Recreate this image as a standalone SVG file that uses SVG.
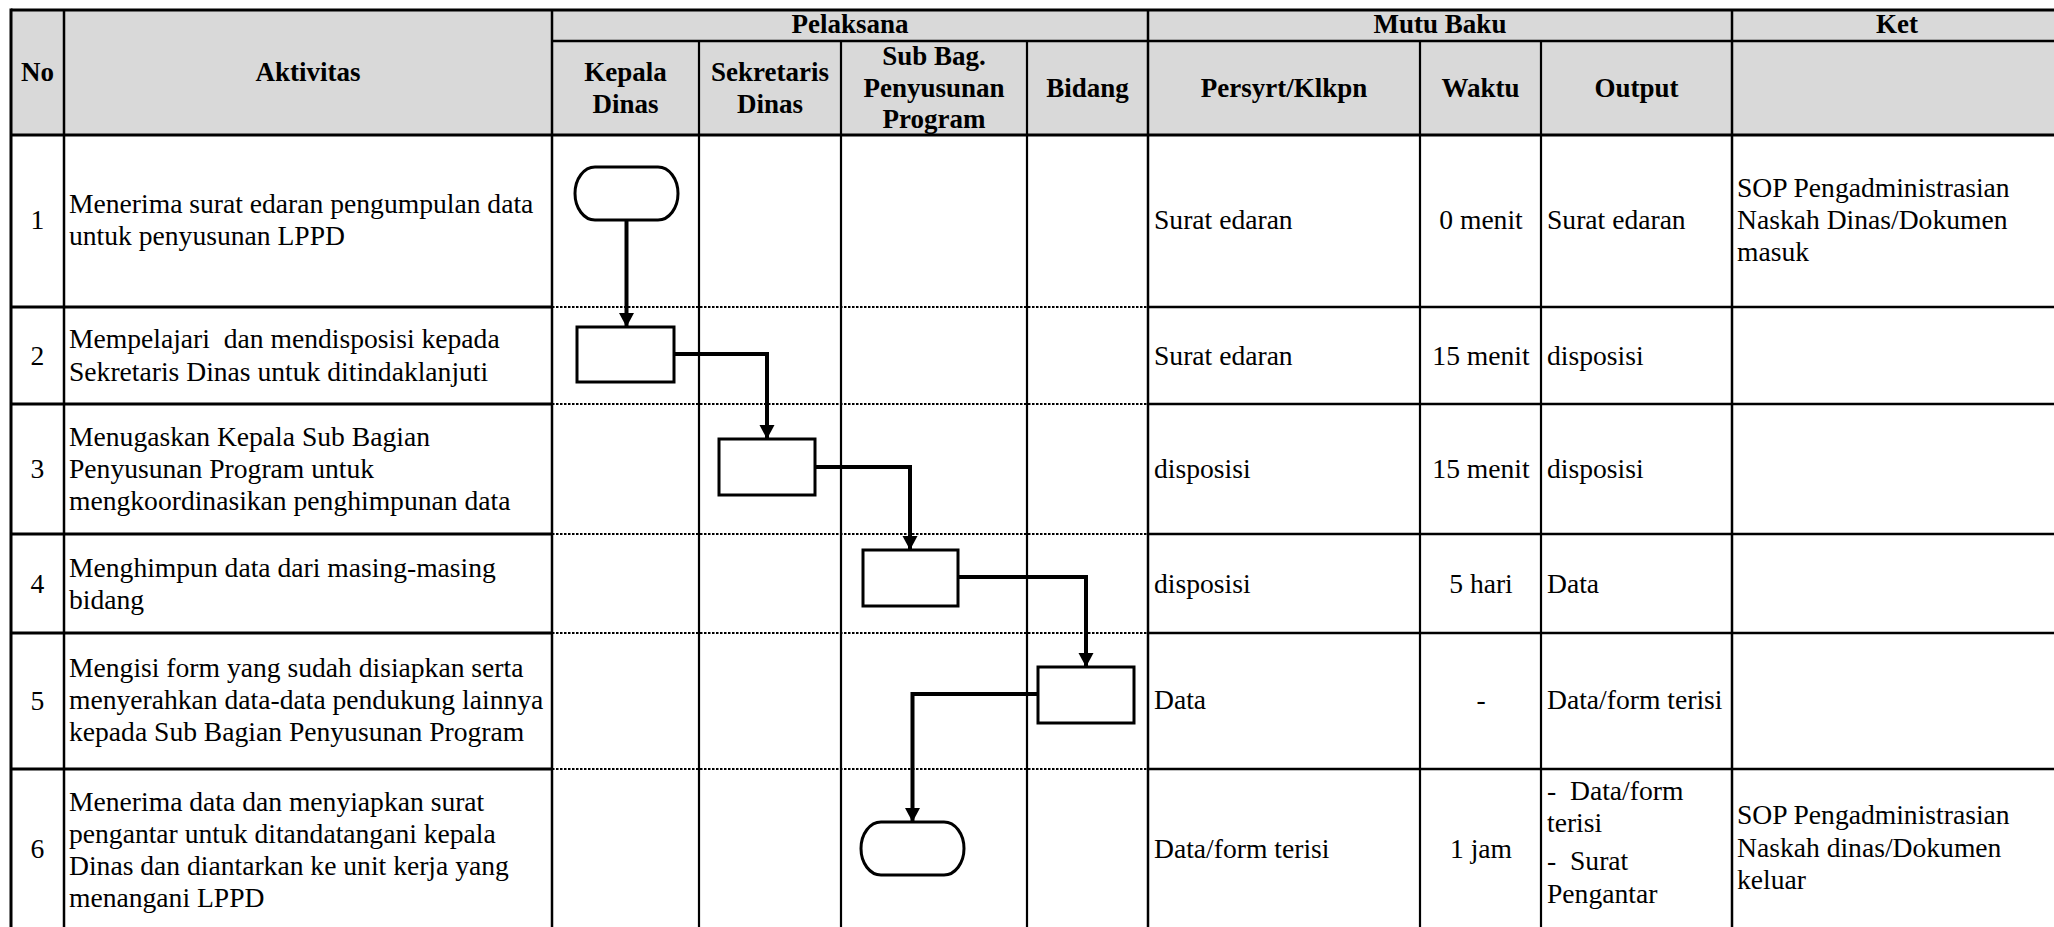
<svg xmlns="http://www.w3.org/2000/svg" width="2054" height="927" viewBox="0 0 2054 927">
  <defs>
    <marker id="arrow" markerUnits="userSpaceOnUse" markerWidth="16" markerHeight="16" refX="14" refY="7.5" orient="auto">
      <path d="M0,0 L14,7.5 L0,15 z" fill="#000"/>
    </marker>
  </defs>
  <style>
    .hd { font-family: "Liberation Serif", "Times New Roman", serif; font-weight: bold; font-size: 27px; fill: #000; text-anchor: middle; }
    .tx { font-family: "Liberation Serif", "Times New Roman", serif; font-size: 27.6px; fill: #000; white-space: pre; }
    .mid { text-anchor: middle; }
    .solid { stroke: #000; stroke-width: 3; fill: none; }
    .thin { stroke: #000; stroke-width: 2.2; fill: none; }
    .dot { stroke: #000; stroke-width: 2; stroke-dasharray: 2.5 1.5; fill: none; }
    .node { fill: #fff; stroke: #000; stroke-width: 3; }
    .flow { fill: none; stroke: #000; stroke-width: 4; marker-end: url(#arrow); }
  </style>

  <rect x="0" y="0" width="2054" height="927" fill="#fff"/>

  <!-- header band -->
  <rect x="11" y="10" width="2043" height="125" fill="#d9d9d9"/>

  <!-- table grid -->
  <g id="grid">
    <line class="solid" x1="11" y1="10" x2="2054" y2="10"/>
    <line class="solid" x1="552" y1="41" x2="2054" y2="41" style="stroke-width:2.5"/>
    <line class="solid" x1="11" y1="135" x2="2054" y2="135"/>

    <!-- row separators: solid in No/Aktivitas, dotted in swimlanes, solid in Mutu Baku/Ket -->
    <g>
      <line class="solid" x1="11" y1="307" x2="552" y2="307"/>
      <line class="dot" x1="552" y1="307" x2="1148" y2="307"/>
      <line class="solid" x1="1148" y1="307" x2="2054" y2="307" style="stroke-width:2.5"/>

      <line class="solid" x1="11" y1="404" x2="552" y2="404"/>
      <line class="dot" x1="552" y1="404" x2="1148" y2="404"/>
      <line class="solid" x1="1148" y1="404" x2="2054" y2="404" style="stroke-width:2.5"/>

      <line class="solid" x1="11" y1="534" x2="552" y2="534"/>
      <line class="dot" x1="552" y1="534" x2="1148" y2="534"/>
      <line class="solid" x1="1148" y1="534" x2="2054" y2="534" style="stroke-width:2.5"/>

      <line class="solid" x1="11" y1="633" x2="552" y2="633"/>
      <line class="dot" x1="552" y1="633" x2="1148" y2="633"/>
      <line class="solid" x1="1148" y1="633" x2="2054" y2="633" style="stroke-width:2.5"/>

      <line class="solid" x1="11" y1="769" x2="552" y2="769"/>
      <line class="dot" x1="552" y1="769" x2="1148" y2="769"/>
      <line class="solid" x1="1148" y1="769" x2="2054" y2="769" style="stroke-width:2.5"/>
    </g>

    <!-- column lines -->
    <line class="solid" x1="11" y1="8.5" x2="11" y2="927"/>
    <line class="solid" x1="64" y1="10" x2="64" y2="927" style="stroke-width:2.5"/>
    <line class="solid" x1="552" y1="10" x2="552" y2="927" style="stroke-width:2.5"/>
    <line class="thin" x1="699" y1="41" x2="699" y2="927"/>
    <line class="thin" x1="841" y1="41" x2="841" y2="927"/>
    <line class="thin" x1="1027" y1="41" x2="1027" y2="927"/>
    <line class="solid" x1="1148" y1="10" x2="1148" y2="927" style="stroke-width:2.5"/>
    <line class="thin" x1="1420" y1="41" x2="1420" y2="927"/>
    <line class="thin" x1="1541" y1="41" x2="1541" y2="927"/>
    <line class="solid" x1="1732" y1="10" x2="1732" y2="927" style="stroke-width:2.5"/>
  </g>

  <!-- header labels -->
  <g id="header">
    <text class="hd" x="37.5" y="81">No</text>
    <text class="hd" x="308" y="81">Aktivitas</text>
    <text class="hd" x="850" y="33">Pelaksana</text>
    <text class="hd" x="1440" y="33">Mutu Baku</text>
    <text class="hd" x="1897" y="33">Ket</text>
    <text class="hd" x="625.5" y="81">Kepala</text>
    <text class="hd" x="625.5" y="113">Dinas</text>
    <text class="hd" x="770" y="81">Sekretaris</text>
    <text class="hd" x="770" y="113">Dinas</text>
    <text class="hd" x="934" y="65">Sub Bag.</text>
    <text class="hd" x="934" y="97">Penyusunan</text>
    <text class="hd" x="934" y="128">Program</text>
    <text class="hd" x="1087.5" y="97">Bidang</text>
    <text class="hd" x="1284" y="97">Persyrt/Klkpn</text>
    <text class="hd" x="1480.5" y="97">Waktu</text>
    <text class="hd" x="1636.5" y="97">Output</text>
  </g>

  <!-- row contents -->
  <g id="rows">
    <text class="tx mid" x="37.5" y="229">1</text>
    <text class="tx" x="69" y="213">Menerima surat edaran pengumpulan data</text>
    <text class="tx" x="69" y="245">untuk penyusunan LPPD</text>
    <text class="tx" x="1154" y="229">Surat edaran</text>
    <text class="tx mid" x="1481" y="229">0 menit</text>
    <text class="tx" x="1547" y="229">Surat edaran</text>
    <text class="tx" x="1737" y="197">SOP Pengadministrasian</text>
    <text class="tx" x="1737" y="229">Naskah Dinas/Dokumen</text>
    <text class="tx" x="1737" y="261">masuk</text>

    <text class="tx mid" x="37.5" y="365">2</text>
    <text class="tx" x="69" y="348">Mempelajari  dan mendisposisi kepada</text>
    <text class="tx" x="69" y="381">Sekretaris Dinas untuk ditindaklanjuti</text>
    <text class="tx" x="1154" y="365">Surat edaran</text>
    <text class="tx mid" x="1481" y="365">15 menit</text>
    <text class="tx" x="1547" y="365">disposisi</text>

    <text class="tx mid" x="37.5" y="478">3</text>
    <text class="tx" x="69" y="446">Menugaskan Kepala Sub Bagian</text>
    <text class="tx" x="69" y="478">Penyusunan Program untuk</text>
    <text class="tx" x="69" y="510">mengkoordinasikan penghimpunan data</text>
    <text class="tx" x="1154" y="478">disposisi</text>
    <text class="tx mid" x="1481" y="478">15 menit</text>
    <text class="tx" x="1547" y="478">disposisi</text>

    <text class="tx mid" x="37.5" y="593">4</text>
    <text class="tx" x="69" y="577">Menghimpun data dari masing-masing</text>
    <text class="tx" x="69" y="609">bidang</text>
    <text class="tx" x="1154" y="593">disposisi</text>
    <text class="tx mid" x="1481" y="593">5 hari</text>
    <text class="tx" x="1547" y="593">Data</text>

    <text class="tx mid" x="37.5" y="710">5</text>
    <text class="tx" x="69" y="677">Mengisi form yang sudah disiapkan serta</text>
    <text class="tx" x="69" y="709">menyerahkan data-data pendukung lainnya</text>
    <text class="tx" x="69" y="741">kepada Sub Bagian Penyusunan Program</text>
    <text class="tx" x="1154" y="709">Data</text>
    <text class="tx mid" x="1481" y="709">-</text>
    <text class="tx" x="1547" y="709">Data/form terisi</text>

    <text class="tx mid" x="37.5" y="858">6</text>
    <text class="tx" x="69" y="811">Menerima data dan menyiapkan surat</text>
    <text class="tx" x="69" y="843">pengantar untuk ditandatangani kepala</text>
    <text class="tx" x="69" y="875">Dinas dan diantarkan ke unit kerja yang</text>
    <text class="tx" x="69" y="907">menangani LPPD</text>
    <text class="tx" x="1154" y="858">Data/form terisi</text>
    <text class="tx mid" x="1481" y="858">1 jam</text>
    <text class="tx" x="1547" y="800">-  Data/form</text>
    <text class="tx" x="1547" y="832">terisi</text>
    <text class="tx" x="1547" y="870">-  Surat</text>
    <text class="tx" x="1547" y="903">Pengantar</text>
    <text class="tx" x="1737" y="824">SOP Pengadministrasian</text>
    <text class="tx" x="1737" y="857">Naskah dinas/Dokumen</text>
    <text class="tx" x="1737" y="889">keluar</text>
  </g>

  <!-- flow connectors -->
  <g id="connectors">
    <path class="flow" d="M626.5,220 V327"/>
    <path class="flow" d="M674,354 H767 V439"/>
    <path class="flow" d="M815,467 H910 V550"/>
    <path class="flow" d="M958,577 H1086 V667"/>
    <path class="flow" d="M1038,694 H912.5 V822"/>
  </g>

  <!-- flow nodes -->
  <g id="node1"><rect class="node" x="575" y="167" width="103" height="53" rx="20" ry="26.5"/></g>
  <g id="node2"><rect class="node" x="577" y="327" width="97" height="55"/></g>
  <g id="node3"><rect class="node" x="719" y="439" width="96" height="56"/></g>
  <g id="node4"><rect class="node" x="863" y="550" width="95" height="56"/></g>
  <g id="node5"><rect class="node" x="1038" y="667" width="96" height="56"/></g>
  <g id="node6"><rect class="node" x="861" y="822" width="103" height="53" rx="20" ry="26.5"/></g>
</svg>
